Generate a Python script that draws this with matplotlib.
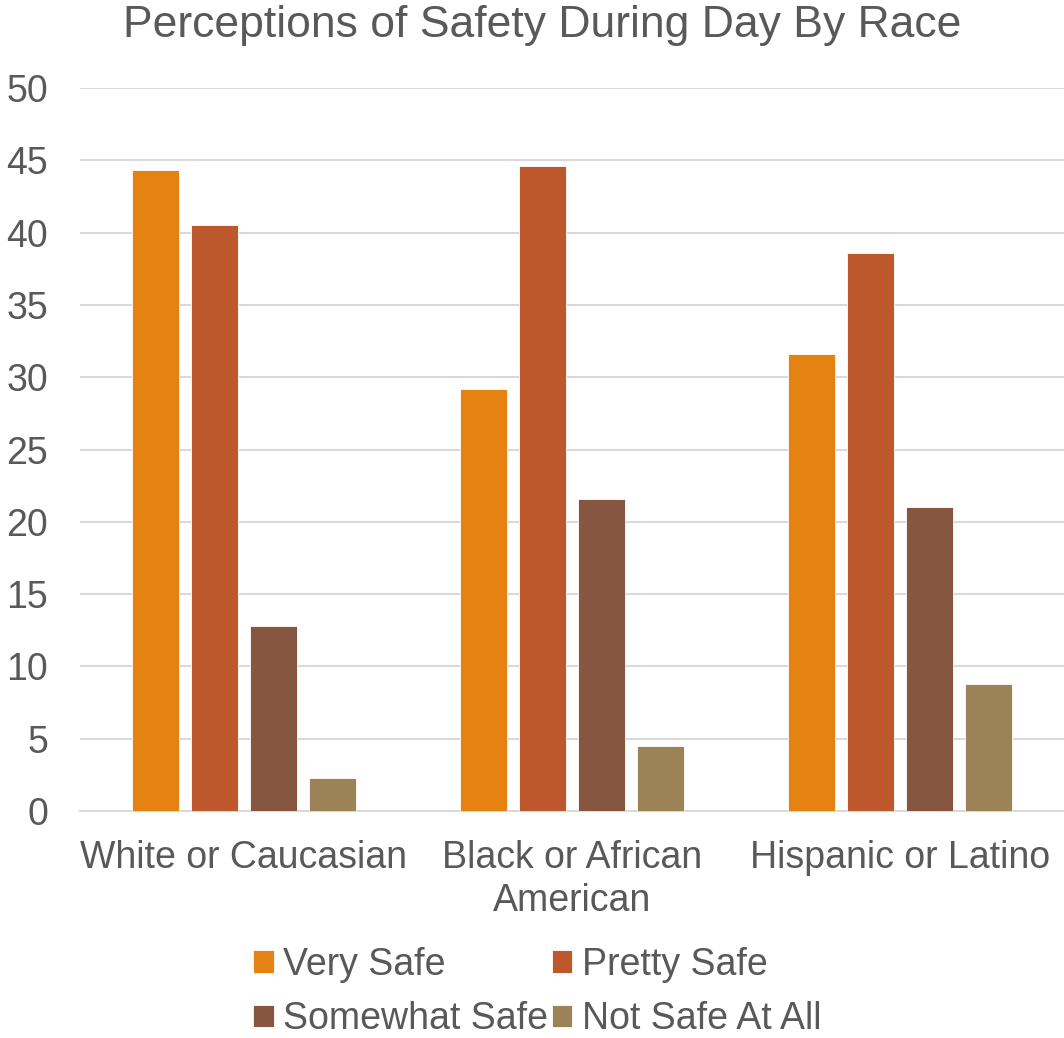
import matplotlib
matplotlib.use("Agg")
import matplotlib.pyplot as plt
import numpy as np

categories = ["White or Caucasian", "Black or African\nAmerican", "Hispanic or Latino"]
series_names = ["Very Safe", "Pretty Safe", "Somewhat Safe", "Not Safe At All"]
very_safe = [44.3, 29.2, 31.6]
pretty_safe = [40.5, 44.6, 38.6]
somewhat_safe = [12.8, 21.6, 21.0]
not_safe = [2.3, 4.5, 8.8]
colors = ["#E48312", "#BD582C", "#865640", "#9B8357"]
yticks = [0, 5, 10, 15, 20, 25, 30, 35, 40, 45, 50]

plt.rcParams['font.family'] = ['Liberation Sans', 'DejaVu Sans']
text_color = "#595959"

fig = plt.figure(figsize=(10.64, 10.38), dpi=100)
ax = fig.add_axes([80/1064, 1-811/1038, 984/1064, (811-88)/1038])

x = np.arange(len(categories))
pitch = 0.18
width = 0.143
handles = []
for i, (name, vals) in enumerate(zip(series_names, [very_safe, pretty_safe, somewhat_safe, not_safe])):
    h = ax.bar(x + (i - 1.5) * pitch, vals, width=width, color=colors[i], label=name,
               edgecolor="white", linewidth=0.6, zorder=3)
    handles.append(h)

ax.set_xlim(-0.5, 2.5)
ax.set_ylim(0, 50)
ax.set_yticks(yticks)
ax.set_yticklabels([str(t) for t in yticks], fontsize=27, color=text_color)
ax.set_xticks(x)
ax.set_xticklabels(categories, fontsize=27, color=text_color, linespacing=1.25)
ax.tick_params(axis='both', length=0)
ax.tick_params(axis='y', pad=23)
ax.tick_params(axis='x', pad=21)
ax.yaxis.grid(True, color="#D9D9D9", linewidth=1.5, zorder=0)
for s in ["top", "right", "left"]:
    ax.spines[s].set_visible(False)
ax.spines["bottom"].set_color("#D9D9D9")
ax.spines["bottom"].set_linewidth(1.5)

fig.text(542/1064, 1-26/1038, "Perceptions of Safety During Day By Race", fontsize=32,
         color=text_color, ha="center", va="center")

order = [0, 2, 1, 3]
leg = fig.legend([handles[k] for k in order], [series_names[k] for k in order],
                 loc="center", bbox_to_anchor=(537/1064, 1-992/1038), ncol=2, frameon=False,
                 fontsize=27, handlelength=0.55, handleheight=0.55, handletextpad=0.25,
                 columnspacing=0.1, labelspacing=0.5, borderpad=0.2)
for t in leg.get_texts():
    t.set_color(text_color)

fig.savefig("out.png", dpi=100)
